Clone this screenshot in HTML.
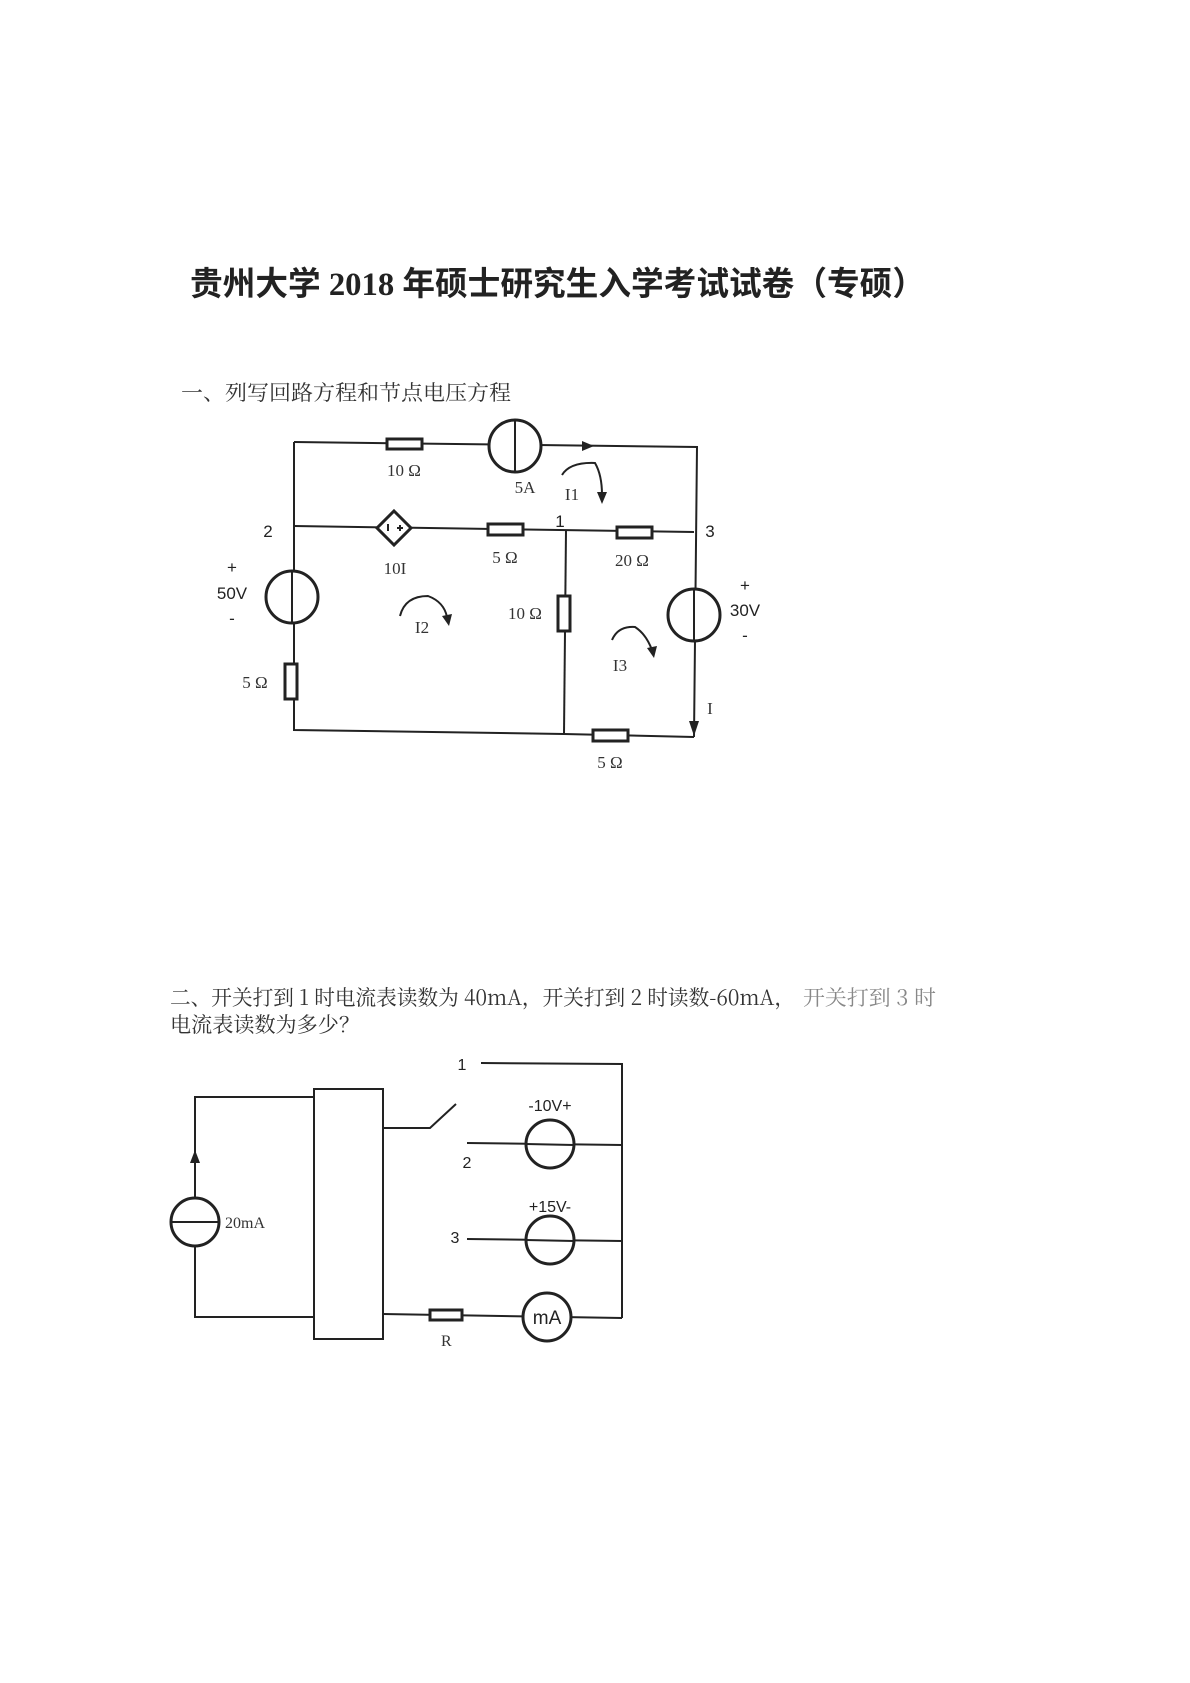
<!DOCTYPE html>
<html><head><meta charset="utf-8"><style>
html,body{margin:0;padding:0;background:#fff;}
svg{display:block;}
.s{font-family:"Liberation Serif","Noto Serif CJK SC",serif;}
.a{font-family:"Liberation Sans","Noto Sans CJK SC",sans-serif;}
</style></head><body>
<svg width="1190" height="1683" viewBox="0 0 1190 1683" xmlns="http://www.w3.org/2000/svg">
<rect width="1190" height="1683" fill="#fff"/>
<text x="190" y="295" font-size="33" font-weight="bold" fill="#222" textLength="735" lengthAdjust="spacingAndGlyphs" font-family="Liberation Serif, Noto Sans CJK SC, sans-serif">贵州大学 2018 年硕士研究生入学考试试卷（专硕）</text>
<text x="181" y="400" font-size="21" fill="#333" textLength="330" lengthAdjust="spacingAndGlyphs" font-family="Noto Serif CJK SC, serif">一、列写回路方程和节点电压方程</text>

<g stroke="#222" stroke-width="2" fill="none">
<polyline points="294,442 294,730 564,734 694,737"/>
<polyline points="294,442 697,447 694,737"/>
<line x1="294" y1="526" x2="694" y2="532"/>
<line x1="566" y1="530" x2="564" y2="734"/>
</g>
<g stroke="#222" stroke-width="3" fill="#fff">
<rect x="387" y="439" width="35" height="10"/>
<rect x="488" y="524" width="35" height="11"/>
<rect x="617" y="527" width="35" height="11"/>
<rect x="285" y="664" width="12" height="35"/>
<rect x="558" y="596" width="12" height="35"/>
<rect x="593" y="730" width="35" height="11"/>
<circle cx="515" cy="446" r="26"/>
<circle cx="292" cy="597" r="26"/>
<circle cx="694" cy="615" r="26"/>
<polygon points="394,511 411,528 394,545 377,528"/>
</g>
<g stroke="#222" stroke-width="2">
<line x1="515" y1="420" x2="515" y2="472"/>
<line x1="292" y1="571" x2="292" y2="623"/>
<line x1="694" y1="589" x2="694" y2="641"/>
<line x1="388" y1="524" x2="388" y2="531"/>
<line x1="397" y1="528" x2="403" y2="528"/><line x1="400" y1="525" x2="400" y2="531"/>
</g>
<polygon points="582,441 594,446 582,451" fill="#222"/>
<polygon points="689,721 699,721 694,736" fill="#222"/>
<g fill="none" stroke="#222" stroke-width="2">
<path d="M562,475 Q570,462 595,463 Q602,475 602,495"/>
<path d="M400,616 Q405,596 428,596 Q444,602 447,617"/>
<path d="M612,640 Q618,626 635,627 Q646,634 652,650"/>
</g>
<polygon points="597,492 607,492 602,504" fill="#222"/>
<polygon points="442,616 452,614 449,626" fill="#222"/>
<polygon points="647,648 657,646 654,658" fill="#222"/>

<g class="s" font-size="17" fill="#333" text-anchor="middle">
<text x="404" y="476">10 Ω</text>
<text x="525" y="493">5A</text>
<text x="572" y="500">I1</text>
<text x="395" y="574">10I</text>
<text x="505" y="563">5 Ω</text>
<text x="632" y="566">20 Ω</text>
<text x="422" y="633">I2</text>
<text x="525" y="619">10 Ω</text>
<text x="620" y="671">I3</text>
<text x="255" y="688">5 Ω</text>
<text x="710" y="714">I</text>
<text x="610" y="768">5 Ω</text>
</g>
<g class="a" font-size="17" fill="#222" text-anchor="middle">
<text x="560" y="527">1</text>
<text x="710" y="537">3</text>
<text x="268" y="537">2</text>
<text x="232" y="573">+</text>
<text x="232" y="599">50V</text>
<text x="232" y="624">-</text>
<text x="745" y="591">+</text>
<text x="745" y="616">30V</text>
<text x="745" y="641">-</text>
</g>

<text x="170" y="1005" font-size="21" fill="#333" textLength="625" lengthAdjust="spacingAndGlyphs" font-family="Noto Serif CJK SC, serif">二、开关打到 1 时电流表读数为 40mA，开关打到 2 时读数-60mA，</text>
<text x="803" y="1005" font-size="21" fill="#888" textLength="133" lengthAdjust="spacingAndGlyphs" font-family="Noto Serif CJK SC, serif">开关打到 3 时</text>
<text x="170" y="1032" font-size="21" fill="#333" textLength="190" lengthAdjust="spacingAndGlyphs" font-family="Noto Serif CJK SC, serif">电流表读数为多少？</text>

<g stroke="#222" stroke-width="2" fill="none">
<polyline points="481,1063 622,1064 622,1318"/>
<rect x="314" y="1089" width="69" height="250"/>
<polyline points="314,1097 195,1097 195,1317 314,1317"/>
<polyline points="383,1128 430,1128 456,1104"/>
<line x1="467" y1="1143" x2="622" y2="1145"/>
<line x1="467" y1="1239" x2="622" y2="1241"/>
<polyline points="383,1314 622,1318"/>
</g>
<g stroke="#222" stroke-width="3" fill="#fff">
<circle cx="195" cy="1222" r="24"/>
<circle cx="550" cy="1144" r="24"/>
<circle cx="550" cy="1240" r="24"/>
<circle cx="547" cy="1317" r="24"/>
<rect x="430" y="1310" width="32" height="10"/>
</g>
<g stroke="#222" stroke-width="2">
<line x1="171" y1="1222" x2="219" y2="1222"/>
<line x1="526" y1="1144" x2="574" y2="1145"/>
<line x1="526" y1="1240" x2="574" y2="1241"/>
</g>
<polygon points="190,1163 200,1163 195,1150" fill="#222"/>
<g class="a" font-size="16" fill="#222" text-anchor="middle">
<text x="462" y="1070">1</text>
<text x="467" y="1168">2</text>
<text x="455" y="1243">3</text>
<text x="550" y="1111">-10V+</text>
<text x="550" y="1212">+15V-</text>
<text x="547" y="1324" font-size="19">mA</text>
</g>
<g class="s" font-size="16" fill="#333">
<text x="225" y="1228">20mA</text>
<text x="441" y="1346">R</text>
</g>
</svg>
</body></html>
